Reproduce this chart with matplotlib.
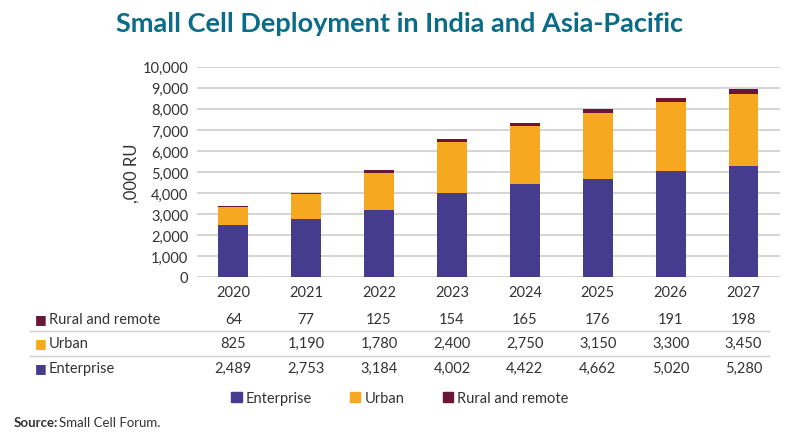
import numpy as np
import matplotlib
matplotlib.use("Agg")
import matplotlib.pyplot as plt
from matplotlib.patches import Patch
from matplotlib.lines import Line2D
import matplotlib.transforms as mtransforms

plt.rcParams['font.family'] = ['Lato', 'DejaVu Sans']

years = ["2020", "2021", "2022", "2023", "2024", "2025", "2026", "2027"]
enterprise = [2489, 2753, 3184, 4002, 4422, 4662, 5020, 5280]
urban = [825, 1190, 1780, 2400, 2750, 3150, 3300, 3450]
rural = [64, 77, 125, 154, 165, 176, 191, 198]
yticks = [0, 1000, 2000, 3000, 4000, 5000, 6000, 7000, 8000, 9000, 10000]

c_ent = "#453c8e"
c_urb = "#f6a821"
c_rur = "#6a1636"
txt = "#333333"

fig = plt.figure(figsize=(8, 4.35), dpi=100)
ax = fig.add_axes([0.246, 0.361, 0.729, 0.483])

x = np.arange(len(years))
ent = np.array(enterprise)
urb = np.array(urban)
rur = np.array(rural)
w = 0.41
ax.bar(x, ent, w, color=c_ent, zorder=3)
ax.bar(x, urb, w, bottom=ent, color=c_urb, zorder=3)
ax.bar(x, rur, w, bottom=ent + urb, color=c_rur, zorder=3)

ax.set_xlim(-0.5, len(years) - 0.5)
ax.set_ylim(0, 10000)
ax.set_yticks(yticks)
ax.set_yticklabels([f"{v:,}" for v in yticks], fontsize=10.5, color=txt)
ax.set_xticks(x)
ax.set_xticklabels(years, fontsize=10.5, color=txt)
ax.tick_params(length=0, pad=6)
ax.grid(axis="y", color="#d4d4d4", lw=1.4, zorder=0)
for s in ax.spines.values():
    s.set_visible(False)
ax.set_ylabel(",000 RU", fontsize=12, color=txt, labelpad=2)

fig.text(0.5, 1 - 24 / 435, "Small Cell Deployment in India and Asia-Pacific",
         ha="center", va="center", fontsize=19.5, fontweight="bold", color="#0a6c87")

# data table under the axis
trans = mtransforms.blended_transform_factory(ax.transData, fig.transFigure)
rows = [("Rural and remote", rural, c_rur, 320),
        ("Urban", urban, c_urb, 344),
        ("Enterprise", enterprise, c_ent, 369)]
for name, vals, col, ypx in rows:
    yf = 1 - ypx / 435
    fig.text(35 / 800, yf, "\u25A0", color=col, fontsize=9, va="center", ha="left",
             family="DejaVu Sans")
    fig.text(49 / 800, yf, name, color=txt, fontsize=10.5, va="center", ha="left")
    for i, v in enumerate(vals):
        ax.text(i, yf, f"{v:,}", transform=trans, ha="center", va="center",
                fontsize=10.5, color=txt)

for ypx in (332, 357):
    yf = 1 - ypx / 435
    fig.add_artist(Line2D([30 / 800, 769 / 800], [yf, yf], transform=fig.transFigure,
                          color="#cfcfcf", lw=1))

handles = [Patch(color=c_ent, label="Enterprise"),
           Patch(color=c_urb, label="Urban"),
           Patch(color=c_rur, label="Rural and remote")]
leg = fig.legend(handles=handles, loc="center", bbox_to_anchor=(0.5, 1 - 399 / 435),
                 ncol=3, frameon=False, fontsize=10.5, handlelength=0.7,
                 handleheight=0.7, handletextpad=0.3, columnspacing=2.6)
for t in leg.get_texts():
    t.set_color(txt)

fig.text(14 / 800, 1 - 423 / 435, "Source:", fontsize=9.5, fontweight="bold",
         color=txt, va="center", ha="left")
fig.text(59 / 800, 1 - 423 / 435, "Small Cell Forum.", fontsize=9.5,
         color=txt, va="center", ha="left")

fig.savefig("out.png", dpi=100)
